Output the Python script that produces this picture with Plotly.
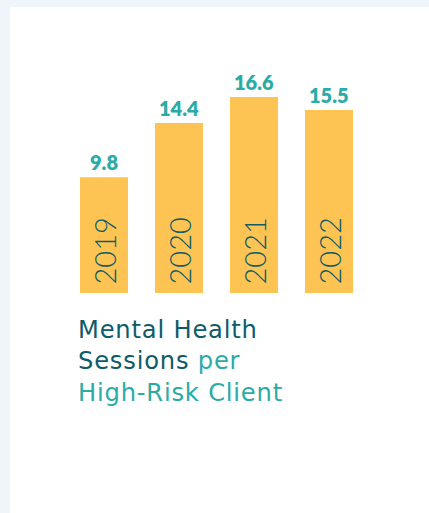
import plotly.graph_objects as go

# ---- data ----
years = ["2019", "2020", "2021", "2022"]
sessions = [9.8, 14.4, 16.6, 15.5]
value_labels = ["9.8", "14.4", "16.6", "15.5"]
title_lines = [
    [("Mental Health", "dark")],
    [("Sessions", "dark"), (" per", "teal")],
    [("High-Risk Client", "teal")],
]

W, H = 429, 513
BAR = "#FDC453"
TEAL = "#2BABA6"
DARK = "#0E5C69"
BAND = "#EEF6FC"
COLORS = {"dark": DARK, "teal": TEAL}

def px_x(x):
    return x / W

def px_y(y):
    return (H - y) / H

fig = go.Figure()
fig.add_trace(go.Bar(
    x=years, y=sessions, marker=dict(color=BAR, line=dict(width=0)),
    hoverinfo="skip", showlegend=False,
))

annotations = []
for i, (yr, v, lab) in enumerate(zip(years, sessions, value_labels)):
    annotations.append(dict(
        x=i, y=v, xref="x", yref="y", text=lab, showarrow=False,
        xanchor="center", yanchor="bottom", yshift=1,
        font=dict(family="Lato", size=20, color=TEAL, weight=800),
    ))
    annotations.append(dict(
        x=i, y=0, xref="x", yref="y", text=yr, showarrow=False,
        textangle=-90, xanchor="center", yanchor="bottom", yshift=6,
        font=dict(family="Lato", size=29, color=DARK, weight=300),
    ))

title_html = "<br>".join(
    "".join("<span style='color:%s;letter-spacing:0.8px'>%s</span>" % (COLORS[c], t)
            for t, c in parts)
    for parts in title_lines
)
annotations.append(dict(
    x=px_x(76), y=px_y(314), xref="paper", yref="paper",
    xanchor="left", yanchor="top", align="left", showarrow=False,
    text=title_html, font=dict(family="DejaVu Sans", size=24.2, color=DARK),
))

fig.update_layout(
    width=W, height=H,
    margin=dict(l=0, r=0, t=0, b=0),
    paper_bgcolor=BAND,
    plot_bgcolor="rgba(0,0,0,0)",
    bargap=0.36,
    xaxis=dict(type="category", domain=[px_x(66.5), px_x(366.5)], range=[-0.5, 3.5],
               showticklabels=False, showgrid=False, zeroline=False, showline=False),
    yaxis=dict(domain=[px_y(293), px_y(57)], range=[0, 20],
               showticklabels=False, showgrid=False, zeroline=False, showline=False),
    shapes=[dict(type="rect", xref="paper", yref="paper",
                 x0=px_x(10), x1=1, y0=0, y1=px_y(7),
                 fillcolor="white", line=dict(width=0), layer="below")],
    annotations=annotations,
)

fig.write_html("out.html", config={"displayModeBar": False},
               post_script="document.body.style.margin='0';")
